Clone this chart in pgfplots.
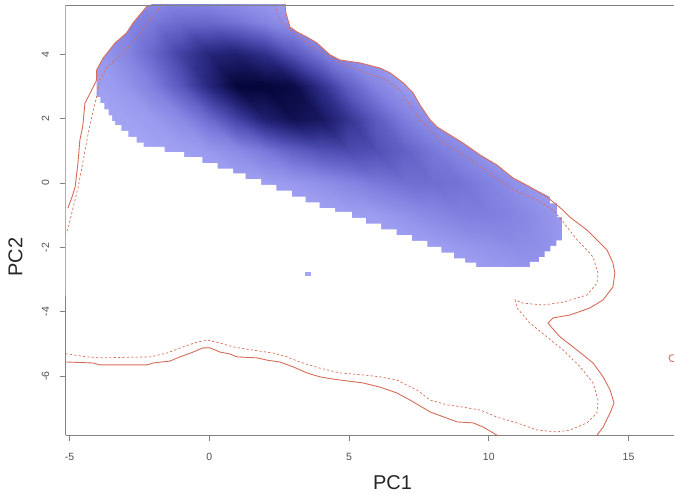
\documentclass[border=0pt]{standalone}
\usepackage{fontspec}
\setmainfont{Liberation Sans}
\usepackage{pgfplots}
\pgfplotsset{compat=1.18}
\definecolor{axgray}{RGB}{130,130,130}
\definecolor{tickgray}{RGB}{80,80,80}
\definecolor{cred}{RGB}{214,108,88}
\definecolor{blobfill}{RGB}{165,165,245}
\begin{document}
\begin{tikzpicture}[x=1pt,y=1pt]
\useasboundingbox (0,0) rectangle (674,493);
\begin{axis}[
  at={(65.7pt,58pt)}, anchor=south west,
  scale only axis, width=608.3pt, height=430pt,
  xmin=-5.138, xmax=16.626, ymin=-7.826, ymax=5.528,
  axis x line*=bottom, axis y line*=left,
  axis line style={draw=axgray, line width=0.8pt},
  xtick={-5,0,5,10,15}, ytick={-6,-4,-2,0,2,4},
  tick align=outside, major tick length=6pt,
  tick style={draw=axgray, line width=0.8pt},
  ticklabel style={font=\fontsize{10.5}{12}\selectfont, text=tickgray},
  /pgf/number format/assume math mode=true,
  yticklabel style={rotate=90, anchor=south},
  xticklabel shift=9pt, yticklabel shift=7pt,
  colormap={bl}{rgb255=(165,165,245) rgb255=(125,125,222) rgb255=(80,80,182) rgb255=(38,38,125) rgb255=(5,5,58)},
  point meta min=0, point meta max=1,
]
% density surface
\addplot[surf, shader=interp, mesh/cols=19, point meta=explicit] table[x index=0, y index=1, meta index=2] {
-5 -3 0
-4 -3 0
-3 -3 0
-2 -3 0
-1 -3 0
0 -3 0
1 -3 0
2 -3 0
3 -3 0
4 -3 0
5 -3 0
6 -3 0
7 -3 0
8 -3 0
9 -3 0.01
10 -3 0.03
11 -3 0.06
12 -3 0.07
13 -3 0.04

-5 -2 0
-4 -2 0
-3 -2 0
-2 -2 0
-1 -2 0
0 -2 0
1 -2 0
2 -2 0
3 -2 0
4 -2 0
5 -2 0
6 -2 0
7 -2 0.01
8 -2 0.04
9 -2 0.08
10 -2 0.12
11 -2 0.15
12 -2 0.13
13 -2 0.06

-5 -1 0
-4 -1 0
-3 -1 0
-2 -1 0
-1 -1 0
0 -1 0
1 -1 0
2 -1 0
3 -1 0
4 -1 0.01
5 -1 0.03
6 -1 0.06
7 -1 0.12
8 -1 0.18
9 -1 0.23
10 -1 0.24
11 -1 0.20
12 -1 0.12
13 -1 0.05

-5 0 0
-4 0 0
-3 0 0
-2 0 0
-1 0 0
0 0 0.01
1 0 0.02
2 0 0.04
3 0 0.08
4 0 0.13
5 0 0.20
6 0 0.27
7 0 0.32
8 0 0.33
9 0 0.30
10 0 0.22
11 0 0.12
12 0 0.05
13 0 0.01

-5 1 0
-4 1 0
-3 1 0
-2 1 0.01
-1 1 0.03
0 1 0.08
1 1 0.16
2 1 0.27
3 1 0.40
4 1 0.49
5 1 0.53
6 1 0.50
7 1 0.40
8 1 0.28
9 1 0.18
10 1 0.08
11 1 0.03
12 1 0
13 1 0

-5 2 0
-4 2 0.01
-3 2 0.02
-2 2 0.07
-1 2 0.17
0 2 0.35
1 2 0.58
2 2 0.80
3 2 0.91
4 2 0.86
5 2 0.66
6 2 0.43
7 2 0.24
8 2 0.12
9 2 0.04
10 2 0.01
11 2 0
12 2 0
13 2 0

-5 3 0.01
-4 3 0.03
-3 3 0.10
-2 3 0.24
-1 3 0.46
0 3 0.75
1 3 1.00
2 3 1.00
3 3 0.96
4 3 0.69
5 3 0.40
6 3 0.20
7 3 0.07
8 3 0.02
9 3 0
10 3 0
11 3 0
12 3 0
13 3 0

-5 4 0.03
-4 4 0.08
-3 4 0.19
-2 4 0.37
-1 4 0.59
0 4 0.76
1 4 0.80
2 4 0.69
3 4 0.48
4 4 0.27
5 4 0.12
6 4 0.05
7 4 0.01
8 4 0
9 4 0
10 4 0
11 4 0
12 4 0
13 4 0

-5 5 0.04
-4 5 0.09
-3 5 0.18
-2 5 0.27
-1 5 0.35
0 5 0.36
1 5 0.30
2 5 0.20
3 5 0.11
4 5 0.05
5 5 0.02
6 5 0
7 5 0
8 5 0
9 5 0
10 5 0
11 5 0
12 5 0
13 5 0

-5 6 0.03
-4 6 0.05
-3 6 0.08
-2 6 0.09
-1 6 0.10
0 6 0.08
1 6 0.05
2 6 0.03
3 6 0.01
4 6 0.01
5 6 0
6 6 0
7 6 0
8 6 0
9 6 0
10 6 0
11 6 0
12 6 0
13 6 0
};
% white mask outside the thresholded region
\addplot[fill=white, draw=none, even odd rule] coordinates {
(-2,6.5) (-6,6.5) (-6,-3.5) (14,-3.5) (14,6.5) (-2,6.5)
(-1.95,5.9) (-2.06,5.53) (-2.24,5.48) (-2.73,4.97) (-2.96,4.66) (-3.37,4.35) (-3.80,3.88) (-4.03,3.51) (-4.03,2.67)
(-3.90,2.67) (-3.90,2.48) (-3.75,2.48) (-3.75,2.29) (-3.60,2.29) (-3.60,2.10) (-3.48,2.10) (-3.48,1.92) (-3.37,1.92) (-3.37,1.80)
(-3.15,1.80) (-3.15,1.62) (-2.90,1.62) (-2.90,1.43) (-2.60,1.43) (-2.60,1.25) (-2.35,1.25) (-2.35,1.12)
(-1.60,1.12) (-1.60,0.96) (-0.90,0.96) (-0.90,0.80) (-0.25,0.80) (-0.25,0.62) (0.30,0.62) (0.30,0.45) (0.85,0.45) (0.85,0.30)
(1.30,0.30) (1.30,0.12) (1.85,0.12) (1.85,-0.06) (2.40,-0.06) (2.40,-0.24) (2.95,-0.24) (2.95,-0.42) (3.45,-0.42) (3.45,-0.60)
(3.95,-0.60) (3.95,-0.78) (4.50,-0.78) (4.50,-0.90)
(5.10,-0.90) (5.10,-1.08) (5.60,-1.08) (5.60,-1.26) (6.15,-1.26) (6.15,-1.44) (6.70,-1.44) (6.70,-1.62) (7.25,-1.62) (7.25,-1.80)
(7.80,-1.80) (7.80,-1.98) (8.30,-1.98) (8.30,-2.16) (8.75,-2.16) (8.75,-2.34) (9.15,-2.34) (9.15,-2.47) (9.55,-2.47) (9.55,-2.61)
(11.47,-2.61) (11.47,-2.45) (11.80,-2.45) (11.80,-2.30) (12.00,-2.30) (12.00,-2.12) (12.20,-2.12) (12.20,-1.95) (12.42,-1.95) (12.42,-1.78)
(12.62,-1.78) (12.62,-1.06) (12.44,-1.06) (12.44,-0.63) (12.19,-0.63) (12.19,-0.43)
(11.47,-0.12) (10.86,0.16) (10.29,0.56) (9.69,0.87) (9.08,1.24) (8.15,1.74) (7.90,1.96) (7.54,2.42) (7.29,2.80) (6.94,3.11)
(6.47,3.42) (6.11,3.57) (5.39,3.73) (4.68,3.82) (4.32,3.98) (3.85,4.35) (3.50,4.53) (3.14,4.69) (2.89,4.84) (2.74,5.28) (2.71,5.53) (2.71,5.9)
(-1.95,5.9) (-2,6.5)
};
% isolated cell
\addplot[fill=blobfill, draw=none] coordinates {(3.42,-2.76) (3.64,-2.76) (3.64,-2.89) (3.42,-2.89)} -- cycle;
% solid contour: left piece
\addplot[cred, line width=0.9pt] coordinates {
(-1.98,5.7) (-2.06,5.53) (-2.24,5.48) (-2.73,4.97) (-2.96,4.66) (-3.37,4.35) (-3.80,3.88) (-4.03,3.51) (-4.03,3.20)
(-4.33,2.68) (-4.45,2.48) (-4.53,1.75) (-4.63,1.34) (-4.70,0.62) (-4.80,-0.12) (-4.91,-0.43) (-5.06,-0.78)
};
% solid contour: upper right piece
\addplot[cred, line width=0.9pt] coordinates {
(2.71,5.7) (2.71,5.53) (2.74,5.28) (2.89,4.84) (3.14,4.69) (3.50,4.53) (3.85,4.35) (4.32,3.98) (4.68,3.82) (5.39,3.73)
(6.11,3.57) (6.47,3.42) (6.94,3.11) (7.29,2.80) (7.54,2.42) (7.90,1.96) (8.15,1.74) (9.08,1.24) (9.69,0.87) (10.29,0.56)
(10.86,0.16) (11.47,-0.12) (12.08,-0.43) (12.65,-0.84) (12.90,-1.06) (13.51,-1.46) (13.87,-1.77) (14.23,-2.08) (14.44,-2.48)
(14.51,-2.80) (14.44,-3.23) (14.09,-3.63) (13.62,-3.88) (12.90,-4.10) (12.30,-4.19) (12.12,-4.35) (12.26,-4.50) (12.55,-4.78)
(13.16,-5.19) (13.73,-5.59) (14.09,-6.02) (14.34,-6.43) (14.48,-6.83) (14.34,-7.14) (14.09,-7.58) (13.87,-7.83) (13.80,-8.0)
};
% solid contour: bottom piece
\addplot[cred, line width=0.9pt] coordinates {
(-5.3,-5.55) (-5.06,-5.56) (-4.16,-5.59) (-3.91,-5.65) (-2.23,-5.65) (-2.01,-5.59) (-1.41,-5.53) (-1.05,-5.40) (-0.58,-5.25)
(-0.23,-5.12) (0.03,-5.12) (0.38,-5.25) (0.74,-5.31) (0.99,-5.40) (1.71,-5.43) (2.06,-5.50) (2.53,-5.56) (3.00,-5.71)
(3.50,-5.90) (3.96,-6.02) (4.43,-6.09) (5.50,-6.21) (6.11,-6.34) (6.71,-6.52) (7.18,-6.74) (7.90,-7.11) (8.87,-7.42)
(9.44,-7.45) (9.80,-7.58) (10.29,-7.83) (10.4,-7.9)
};
% solid contour: tiny piece at the right edge
\addplot[cred, line width=0.9pt] coordinates {
(16.7,-5.33) (16.48,-5.35) (16.45,-5.45) (16.50,-5.53) (16.7,-5.55)
};
% dashed contour: left piece
\addplot[cred, line width=0.7pt, dash pattern=on 2.2pt off 2.2pt] coordinates {
(-1.72,5.7) (-1.76,5.48) (-2.48,4.66) (-3.08,4.03) (-3.66,3.60) (-3.91,3.20) (-4.03,2.68) (-4.15,2.27) (-4.33,1.55)
(-4.51,0.71) (-4.69,-0.12) (-4.87,-0.75) (-5.04,-1.37) (-5.2,-1.7)
};
% dashed contour: long piece
\addplot[cred, line width=0.7pt, dash pattern=on 2.2pt off 2.2pt] coordinates {
(-5.3,-5.29) (-5.06,-5.31) (-4.38,-5.40) (-3.91,-5.43) (-2.12,-5.40) (-1.51,-5.28) (-0.94,-5.09) (-0.44,-4.94) (-0.05,-4.88)
(0.38,-4.97) (0.85,-5.09) (1.56,-5.19) (2.28,-5.28) (2.78,-5.40) (3.24,-5.56) (3.96,-5.75) (4.68,-5.90) (5.50,-5.96)
(6.11,-6.02) (6.71,-6.12) (7.43,-6.43) (7.90,-6.74) (8.51,-6.89) (9.08,-6.96) (9.69,-7.05) (10.29,-7.27) (11.01,-7.45)
(11.72,-7.67) (12.44,-7.73) (12.91,-7.67) (13.51,-7.45) (13.87,-7.14) (13.91,-6.74) (13.73,-6.21) (13.27,-5.71) (12.66,-5.19)
(12.08,-4.78) (11.47,-4.35) (11.01,-3.88) (10.94,-3.63) (11.22,-3.73) (11.94,-3.79) (12.66,-3.70) (13.51,-3.48) (13.87,-3.11)
(13.91,-2.80) (13.73,-2.30) (13.51,-2.08) (13.16,-1.77) (12.66,-1.21) (12.30,-0.84) (11.72,-0.53) (10.87,-0.22) (10.04,0.31)
(9.08,0.87) (8.25,1.34) (7.65,1.86) (7.29,2.27) (6.82,2.89) (6.36,3.20) (5.50,3.45) (4.68,3.73) (4.32,3.91) (3.61,4.29)
(3.00,4.66) (2.64,4.97) (2.42,5.28) (2.35,5.53) (2.34,5.7)
};
% top frame line
\draw[axgray, line width=0.8pt] (rel axis cs:0,1) -- (rel axis cs:1,1);
\end{axis}
\node[font=\fontsize{20}{24}\selectfont, text=black!85] at (392.5,10) {PC1};
\node[font=\fontsize{20}{24}\selectfont, text=black!85, rotate=90] at (15.5,236) {PC2};
\end{tikzpicture}
\end{document}
